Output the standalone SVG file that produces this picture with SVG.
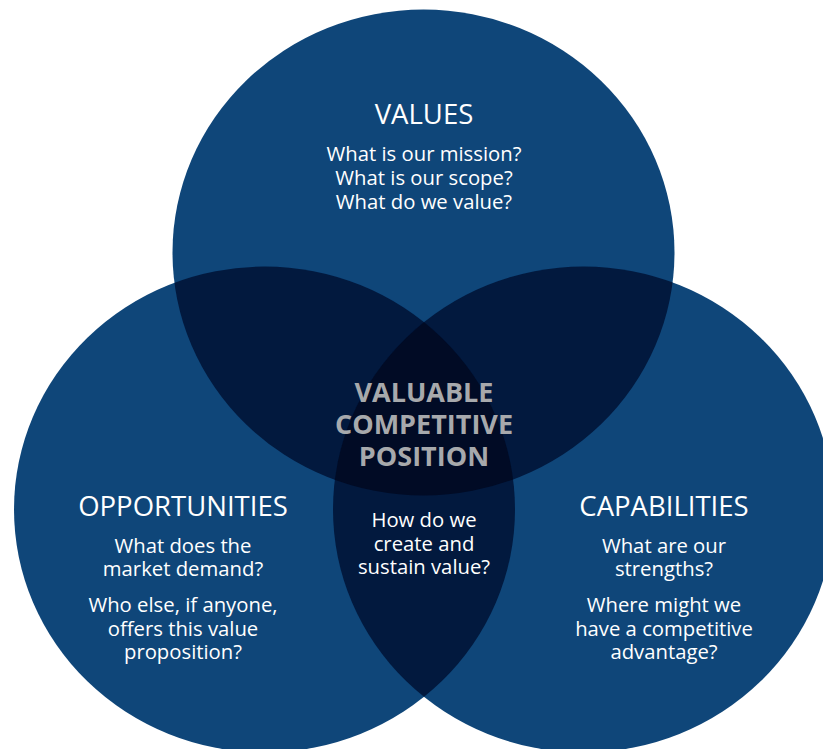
<svg xmlns="http://www.w3.org/2000/svg" width="823" height="749" viewBox="0 0 823 749">
<style>
.base{fill:#0f4679}
.dbl{fill:#02193e}
.tri{fill:#010b25}
text{font-family:"Open Sans","Noto Sans","Liberation Sans",sans-serif;fill:#ffffff;text-anchor:middle}
.title{font-size:27.5px}
.body{font-size:20.3px}
.center{font-size:27px;font-weight:bold;fill:#a7a9ac}
</style>
<defs>
<clipPath id="cTop"><ellipse cx="423.5" cy="252.5" rx="251" ry="243"/></clipPath>
<clipPath id="cLeft"><ellipse cx="264.5" cy="509.5" rx="250.5" ry="243"/></clipPath>
<clipPath id="cRight"><ellipse cx="583.5" cy="509.5" rx="250.5" ry="243"/></clipPath>
</defs>
<rect width="823" height="749" fill="#ffffff"/>
<g id="values">
<ellipse class="base" cx="423.5" cy="252.5" rx="251" ry="243"/>
</g>
<g id="opportunities">
<ellipse class="base" cx="264.5" cy="509.5" rx="250.5" ry="243"/>
</g>
<g id="capabilities">
<ellipse class="base" cx="583.5" cy="509.5" rx="250.5" ry="243"/>
</g>
<g id="overlaps">
<g clip-path="url(#cTop)"><ellipse class="dbl" cx="264.5" cy="509.5" rx="250.5" ry="243"/></g>
<g clip-path="url(#cTop)"><ellipse class="dbl" cx="583.5" cy="509.5" rx="250.5" ry="243"/></g>
<g clip-path="url(#cLeft)"><ellipse class="dbl" cx="583.5" cy="509.5" rx="250.5" ry="243"/></g>
<g clip-path="url(#cTop)"><g clip-path="url(#cLeft)"><ellipse class="tri" cx="583.5" cy="509.5" rx="250.5" ry="243"/></g></g>
</g>
<g id="values-text">
<text class="title" x="424" y="124">VALUES</text>
<text class="body" x="424" y="161">What is our mission?</text>
<text class="body" x="424" y="185">What is our scope?</text>
<text class="body" x="424" y="209">What do we value?</text>
</g>
<g id="opportunities-text">
<text class="title" x="183" y="516">OPPORTUNITIES</text>
<text class="body" x="183" y="553">What does the</text>
<text class="body" x="183" y="576">market demand?</text>
<text class="body" x="183" y="612">Who else, if anyone,</text>
<text class="body" x="183" y="636">offers this value</text>
<text class="body" x="183" y="659">proposition?</text>
</g>
<g id="capabilities-text">
<text class="title" x="664" y="516">CAPABILITIES</text>
<text class="body" x="664" y="553">What are our</text>
<text class="body" x="664" y="576">strengths?</text>
<text class="body" x="664" y="612">Where might we</text>
<text class="body" x="664" y="636">have a competitive</text>
<text class="body" x="664" y="659">advantage?</text>
</g>
<g id="center">
<text class="center" x="424" y="402">VALUABLE</text>
<text class="center" x="424" y="434">COMPETITIVE</text>
<text class="center" x="424" y="466">POSITION</text>
<text class="body" x="424" y="527">How do we</text>
<text class="body" x="424" y="551">create and</text>
<text class="body" x="424" y="574">sustain value?</text>
</g>
</svg>
